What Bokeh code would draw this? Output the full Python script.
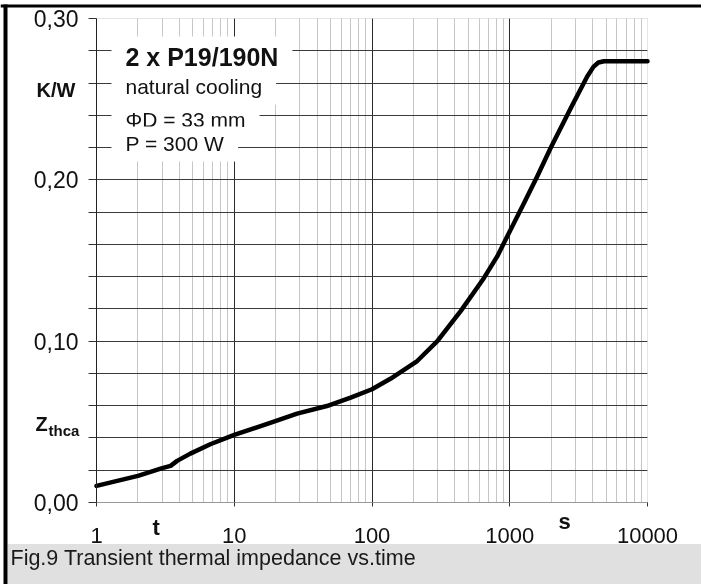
import math
from bokeh.plotting import figure
from bokeh.models import (FixedTicker, Label, BoxAnnotation, Range1d, CustomJSTickFormatter,
                          GlobalInlineStyleSheet, InlineStyleSheet)
from bokeh.embed import file_html
from bokeh.resources import INLINE

# ---- data ----
time_s = [1, 2, 3, 3.45, 3.85, 4.8, 6.7, 10, 19.4, 28.6, 47, 70, 100, 136, 213,
          298, 440, 650, 813, 960, 1270, 1585, 1980, 2770, 3650, 4050, 4400, 4830, 10000]
zthca = [0.0103, 0.0165, 0.0213, 0.0227, 0.0258, 0.0303, 0.0361, 0.0419, 0.0501, 0.0551,
         0.0598, 0.0650, 0.0702, 0.0767, 0.0877, 0.1000, 0.1186, 0.1392, 0.1527, 0.1650,
         0.1856, 0.2022, 0.2197, 0.2444, 0.2640, 0.2700, 0.2727, 0.2735, 0.2735]

y_ticks = [0.0, 0.1, 0.2, 0.3]
y_minor = [0.02, 0.04, 0.06, 0.08, 0.12, 0.14, 0.16, 0.18, 0.22, 0.24, 0.26, 0.28]
x_ticks = [1, 10, 100, 1000, 10000]
x_minor = [m * 10 ** k for k in range(4) for m in range(2, 10)]

title_lines = ["2 x P19/190N", "natural cooling", "\u03a6D = 33 mm", "P = 300 W"]
caption = "Fig.9 Transient thermal impedance vs.time"

FONT = "Liberation Sans"
W, H = 701, 584
# plot area inside the canvas (pixels)
PL, PR, PT, PB = 96, 647, 18, 502
XMIN, XMAX, YMIN, YMAX = 1, 10000, 0.0, 0.3
dec_px = (PR - PL) / (math.log10(XMAX) - math.log10(XMIN))
y_px = (PB - PT) / (YMAX - YMIN)

x_range = Range1d(10 ** (math.log10(XMIN) - PL / dec_px), 10 ** (math.log10(XMAX) + (W - PR) / dec_px))
y_range = Range1d(YMIN - (H - PB) / y_px, YMAX + PT / y_px)

no_scroll = ("* { overflow: hidden !important; scrollbar-width: none !important; } "
             "*::-webkit-scrollbar { display: none !important; width: 0 !important; height: 0 !important; } "
             ":host { overflow: hidden !important; }")

p = figure(width=W, height=H, x_axis_type="log", x_range=x_range, y_range=y_range,
           output_backend="svg", toolbar_location=None,
           min_border_left=0, min_border_right=0, min_border_top=0, min_border_bottom=0,
           background_fill_color="white", border_fill_color="white",
           styles={"position": "fixed", "left": "0px", "top": "0px", "overflow": "hidden"},
           stylesheets=[GlobalInlineStyleSheet(css="html, body { overflow: hidden; scrollbar-width: none; }"),
                        InlineStyleSheet(css=no_scroll)])
p.outline_line_color = None


def d(X, Y):
    """canvas pixel -> data coordinates (annotation placement only)"""
    return 10 ** (math.log10(XMIN) + (X - PL) / dec_px), YMIN + (PB - Y) / y_px


# caption band and picture border
def box(X0, X1, Y0, Y1, color, level="underlay"):
    x0, y1 = d(X0, Y0)
    x1, y0 = d(X1, Y1)
    p.add_layout(BoxAnnotation(left=x0, right=x1, bottom=y0, top=y1, level=level,
                               fill_color=color, fill_alpha=1, line_color=None))


box(7, W, 543.5, H, "#e0e0e0")
box(0, W, 4, 7, "black")
box(3, 7, 4, H, "black")

# plot-area outline
p.add_layout(BoxAnnotation(left=XMIN, right=XMAX, bottom=YMIN, top=YMAX, level="underlay",
                           fill_alpha=0, line_color="#aaaaaa", line_width=1))

# grids
p.xgrid.ticker = FixedTicker(ticks=[10, 100, 1000], minor_ticks=[v for v in x_minor if v > 1])
p.xgrid.grid_line_color = "#2a2a2a"
p.xgrid.minor_grid_line_color = "#c6c6c6"
p.xgrid.cross_bounds = (YMIN, YMAX)
p.ygrid.ticker = FixedTicker(ticks=[0.1, 0.2], minor_ticks=y_minor)
p.ygrid.grid_line_color = "#3a3a3a"
p.ygrid.minor_grid_line_color = "#3a3a3a"
p.ygrid.cross_bounds = (XMIN, XMAX)

# y axis
p.yaxis.fixed_location = XMIN
p.yaxis.bounds = (YMIN, YMAX)
p.yaxis.ticker = FixedTicker(ticks=y_ticks, minor_ticks=y_minor)
p.yaxis.formatter = CustomJSTickFormatter(code="return tick.toFixed(2).replace('.', ',');")
p.yaxis.axis_line_color = "#222222"
p.yaxis.major_tick_out = 8
p.yaxis.minor_tick_out = 8
p.yaxis.major_tick_in = 0
p.yaxis.minor_tick_in = 0
p.yaxis.major_tick_line_color = "#333333"
p.yaxis.minor_tick_line_color = "#333333"
p.yaxis.major_label_standoff = 10
p.yaxis.major_label_text_font = FONT
p.yaxis.major_label_text_font_size = "23px"
p.yaxis.major_label_text_color = "#111111"

# x axis
p.xaxis.fixed_location = YMIN
p.xaxis.bounds = (XMIN, XMAX)
p.xaxis.ticker = FixedTicker(ticks=x_ticks)
p.xaxis.formatter = CustomJSTickFormatter(code="return String(Math.round(tick));")
p.xaxis.axis_line_color = "#999999"
p.xaxis.major_tick_out = 4
p.xaxis.major_tick_in = 0
p.xaxis.minor_tick_out = 0
p.xaxis.minor_tick_in = 0
p.xaxis.major_tick_line_color = "#333333"
p.xaxis.major_label_standoff = 21
p.xaxis.major_label_text_font = FONT
p.xaxis.major_label_text_font_size = "22px"
p.xaxis.major_label_text_color = "#111111"

# curve
p.line(time_s, zthca, line_width=4.5, line_color="black", line_join="round", line_cap="round")


def lab(text, X, Y, size, bold=False, color="#111111", bg=None):
    # X = left edge of text, Y = baseline (canvas pixels)
    Y = Y - 0.36 * size
    kw = {}
    if bg:
        X = X - 14
        kw = dict(background_fill_color=bg, padding=(14, 6))
    x, y = d(X, Y)
    p.add_layout(Label(x=x, y=y, text=text, text_font=FONT, text_font_size="%gpx" % size,
                       text_font_style="bold" if bold else "normal",
                       text_color=color, text_baseline="alphabetic", text_align="left", **kw))


# in-plot annotation block
lab(title_lines[0], 125, 65, 25, bold=True, bg="white")
lab(title_lines[1], 125, 94, 21, bg="white")
lab(title_lines[2], 125, 127, 21, bg="white")
lab(title_lines[3], 125, 151, 21, bg="white")

# axis labels
lab("K/W", 36, 97, 20, bold=True)
lab("Z", 35, 431, 20, bold=True)
lab("thca", 48, 435, 15, bold=True)
lab("t", 152, 535, 22, bold=True)
lab("s", 558, 529, 22, bold=True)

# caption
lab(caption, 10, 565, 21.5, color="#1a1a1a")

open("out.html", "w").write(file_html(p, INLINE))
